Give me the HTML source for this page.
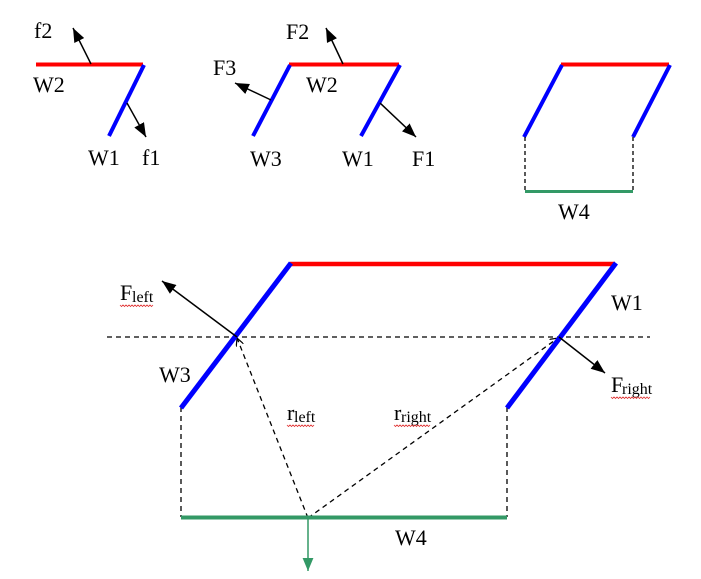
<!DOCTYPE html>
<html>
<head>
<meta charset="utf-8">
<style>
  html,body{margin:0;padding:0;background:#fff;}
  svg{display:block;}
  text{font-family:"Liberation Serif","Times New Roman",serif;fill:#000;}
  .lbl{font-size:22px;}
  .sub{font-size:16px;}
</style>
</head>
<body>
<svg width="701" height="579" viewBox="0 0 701 579" xmlns="http://www.w3.org/2000/svg">
  <defs>
    <marker id="ah" viewBox="0 0 14 11" refX="14" refY="5.5" markerWidth="14" markerHeight="11" markerUnits="userSpaceOnUse" orient="auto">
      <path d="M0,0 L14,5.5 L0,11 z" fill="#000"/>
    </marker>
    <marker id="ahg" viewBox="0 0 12 10" refX="12" refY="5" markerWidth="13" markerHeight="11" markerUnits="userSpaceOnUse" orient="auto">
      <path d="M0,0 L12,5 L0,10 z" fill="#339966"/>
    </marker>
    <marker id="oa" viewBox="0 0 8 8" refX="8" refY="4" markerWidth="8" markerHeight="8" markerUnits="userSpaceOnUse" orient="auto">
      <path d="M0,0 L8,4 L0,8" fill="none" stroke="#000" stroke-width="1.2"/>
    </marker>
  </defs>

  <!-- ===== Diagram 1 (top-left) ===== -->
  <line x1="36" y1="64.5" x2="143" y2="64.5" stroke="#ff0000" stroke-width="4"/>
  <line x1="144" y1="65" x2="109" y2="136" stroke="#0000ff" stroke-width="4"/>
  <line x1="91" y1="64" x2="73" y2="28" stroke="#000" stroke-width="1.5" marker-end="url(#ah)"/>
  <line x1="127" y1="103" x2="146" y2="137" stroke="#000" stroke-width="1.5" marker-end="url(#ah)"/>
  <text class="lbl" x="34" y="38">f2</text>
  <text class="lbl" x="33" y="92">W2</text>
  <text class="lbl" x="88" y="165">W1</text>
  <text class="lbl" x="142" y="165">f1</text>

  <!-- ===== Diagram 2 (top-middle) ===== -->
  <line x1="289" y1="64.5" x2="399" y2="64.5" stroke="#ff0000" stroke-width="4"/>
  <line x1="290" y1="65" x2="253" y2="136" stroke="#0000ff" stroke-width="4"/>
  <line x1="400" y1="65" x2="361" y2="136" stroke="#0000ff" stroke-width="4"/>
  <line x1="343" y1="64" x2="326" y2="28" stroke="#000" stroke-width="1.5" marker-end="url(#ah)"/>
  <line x1="271" y1="100" x2="235" y2="83" stroke="#000" stroke-width="1.5" marker-end="url(#ah)"/>
  <line x1="380" y1="103" x2="416" y2="137" stroke="#000" stroke-width="1.5" marker-end="url(#ah)"/>
  <text class="lbl" x="286" y="39">F2</text>
  <text class="lbl" x="213" y="75">F3</text>
  <text class="lbl" x="306" y="92">W2</text>
  <text class="lbl" x="250" y="166">W3</text>
  <text class="lbl" x="342" y="166">W1</text>
  <text class="lbl" x="412" y="166">F1</text>

  <!-- ===== Diagram 3 (top-right) ===== -->
  <line x1="561" y1="64.5" x2="669" y2="64.5" stroke="#ff0000" stroke-width="4"/>
  <line x1="562" y1="65" x2="524" y2="137" stroke="#0000ff" stroke-width="4"/>
  <line x1="670" y1="65" x2="633" y2="137" stroke="#0000ff" stroke-width="4"/>
  <line x1="525" y1="137" x2="525" y2="192" stroke="#000" stroke-width="1.3" stroke-dasharray="4,3"/>
  <line x1="633" y1="137" x2="633" y2="192" stroke="#000" stroke-width="1.3" stroke-dasharray="4,3"/>
  <line x1="525" y1="191.5" x2="633" y2="191.5" stroke="#339966" stroke-width="3"/>
  <text class="lbl" x="558" y="219">W4</text>

  <!-- ===== Bottom diagram ===== -->
  <line x1="107" y1="337" x2="650" y2="337" stroke="#000" stroke-width="1.3" stroke-dasharray="5,4"/>
  <line x1="181" y1="407" x2="181" y2="517" stroke="#000" stroke-width="1.3" stroke-dasharray="5,4"/>
  <line x1="507" y1="407" x2="507" y2="517" stroke="#000" stroke-width="1.3" stroke-dasharray="5,4"/>
  <line x1="308" y1="518" x2="237" y2="338" stroke="#000" stroke-width="1.3" stroke-dasharray="5,4" marker-end="url(#oa)"/>
  <line x1="308" y1="518" x2="558" y2="338" stroke="#000" stroke-width="1.3" stroke-dasharray="5,4" marker-end="url(#oa)"/>

  <line x1="290" y1="264" x2="615" y2="264" stroke="#ff0000" stroke-width="4.5"/>
  <line x1="291" y1="263" x2="181" y2="408" stroke="#0000ff" stroke-width="5"/>
  <line x1="616" y1="263" x2="507" y2="408" stroke="#0000ff" stroke-width="5"/>
  <line x1="181" y1="517.5" x2="507" y2="517.5" stroke="#339966" stroke-width="4"/>

  <line x1="237" y1="337" x2="162" y2="281" stroke="#000" stroke-width="1.5" marker-end="url(#ah)"/>
  <line x1="559" y1="337" x2="605" y2="373" stroke="#000" stroke-width="1.5" marker-end="url(#ah)"/>
  <line x1="308" y1="518" x2="308" y2="571" stroke="#339966" stroke-width="1.5" marker-end="url(#ahg)"/>

  <text class="lbl" x="120" y="300">F</text><text class="sub" x="132" y="302">left</text>
  <text class="lbl" x="159" y="382">W3</text>
  <text class="lbl" x="611" y="310">W1</text>
  <text class="lbl" x="611" y="392">F</text><text class="sub" x="622" y="394">right</text>
  <text class="lbl" x="287" y="420">r</text><text class="sub" x="294" y="422">left</text>
  <text class="lbl" x="394" y="420">r</text><text class="sub" x="401" y="422">right</text>
  <text class="lbl" x="395" y="545">W4</text>

  <g fill="none" stroke="#e03030" stroke-width="0.8">
    <path d="M120,305 l1.5,1.5 l1.5,-1.5 l1.5,1.5 l1.5,-1.5 l1.5,1.5 l1.5,-1.5 l1.5,1.5 l1.5,-1.5 l1.5,1.5 l1.5,-1.5 l1.5,1.5 l1.5,-1.5 l1.5,1.5 l1.5,-1.5 l1.5,1.5 l1.5,-1.5 l1.5,1.5 l1.5,-1.5 l1.5,1.5 l1.5,-1.5 l1.5,1.5 l1.5,-1.5"/>
    <path d="M611,397 l1.5,1.5 l1.5,-1.5 l1.5,1.5 l1.5,-1.5 l1.5,1.5 l1.5,-1.5 l1.5,1.5 l1.5,-1.5 l1.5,1.5 l1.5,-1.5 l1.5,1.5 l1.5,-1.5 l1.5,1.5 l1.5,-1.5 l1.5,1.5 l1.5,-1.5 l1.5,1.5 l1.5,-1.5 l1.5,1.5 l1.5,-1.5 l1.5,1.5 l1.5,-1.5 l1.5,1.5 l1.5,-1.5 l1.5,1.5 l1.5,-1.5"/>
    <path d="M287,425 l1.5,1.5 l1.5,-1.5 l1.5,1.5 l1.5,-1.5 l1.5,1.5 l1.5,-1.5 l1.5,1.5 l1.5,-1.5 l1.5,1.5 l1.5,-1.5 l1.5,1.5 l1.5,-1.5 l1.5,1.5 l1.5,-1.5 l1.5,1.5 l1.5,-1.5 l1.5,1.5 l1.5,-1.5"/>
    <path d="M394,425 l1.5,1.5 l1.5,-1.5 l1.5,1.5 l1.5,-1.5 l1.5,1.5 l1.5,-1.5 l1.5,1.5 l1.5,-1.5 l1.5,1.5 l1.5,-1.5 l1.5,1.5 l1.5,-1.5 l1.5,1.5 l1.5,-1.5 l1.5,1.5 l1.5,-1.5 l1.5,1.5 l1.5,-1.5 l1.5,1.5 l1.5,-1.5 l1.5,1.5 l1.5,-1.5 l1.5,1.5 l1.5,-1.5"/>
  </g>
</svg>
</body>
</html>
